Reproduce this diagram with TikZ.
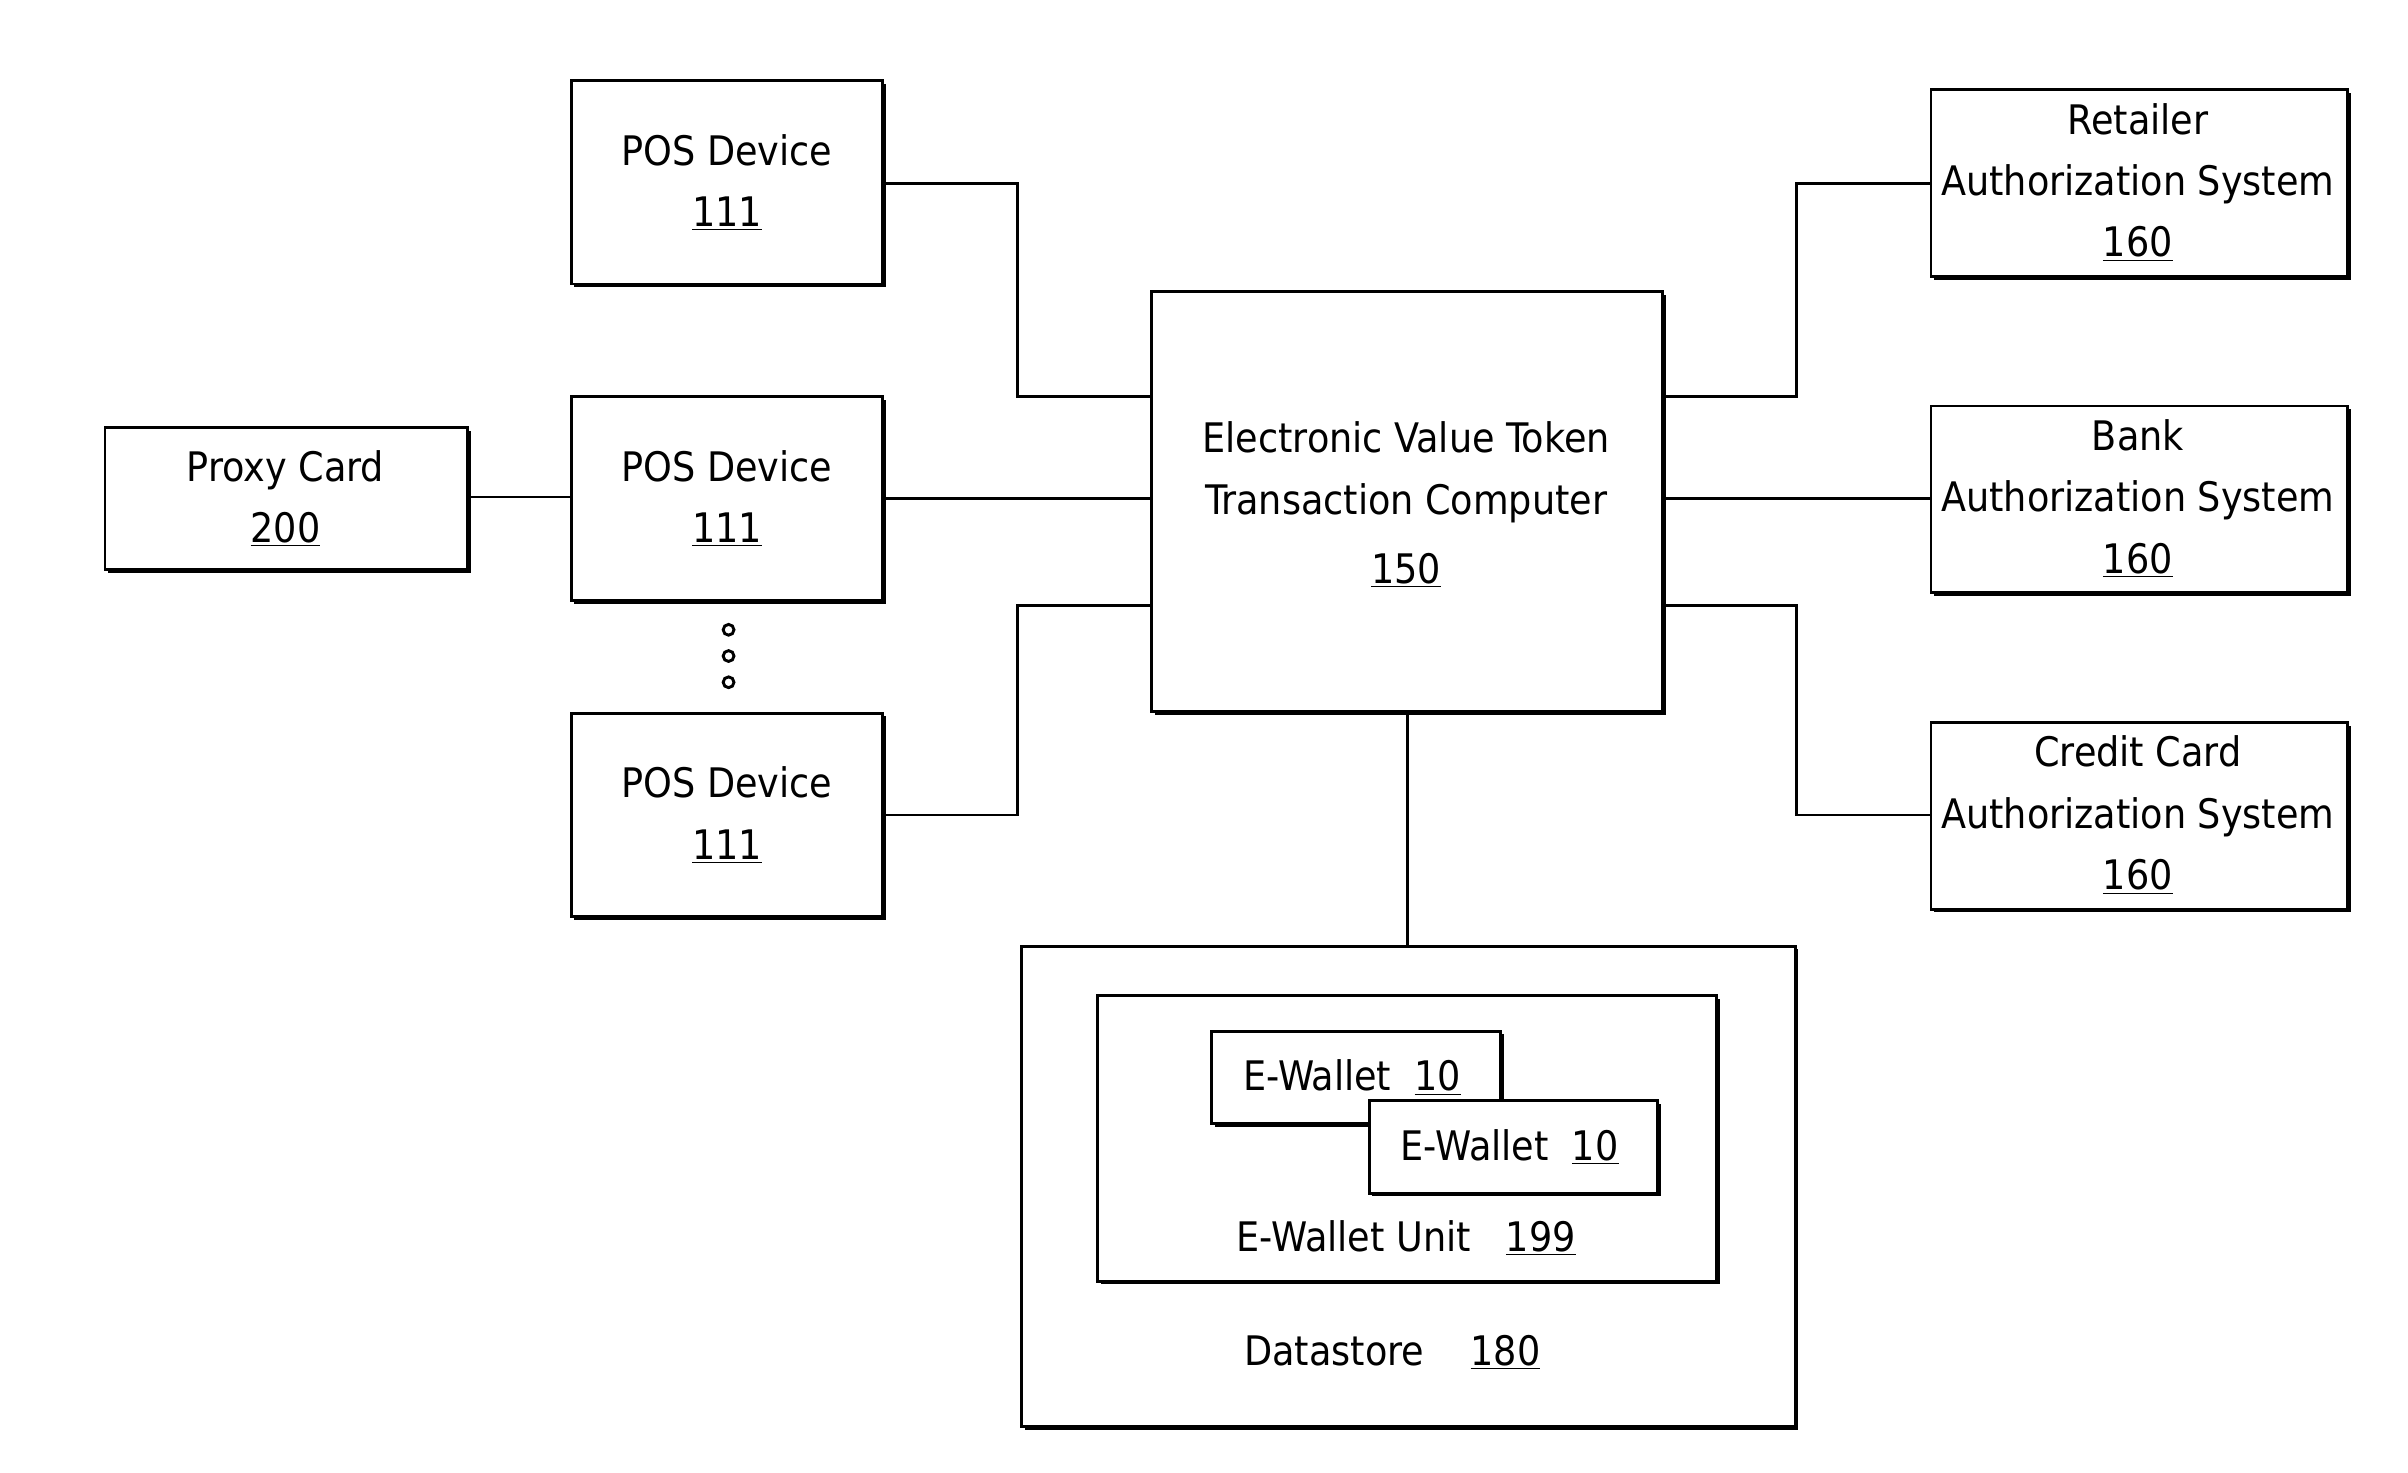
\documentclass[tikz,border=0pt]{standalone}
\usepackage{fontspec}
\setmainfont{DejaVu Sans Condensed}
\usetikzlibrary{shadows}
\newcommand\mybox[5]{\node[box,minimum width={(#4-#2)*0.03cm},minimum height={(#5-#3)*0.03cm}] (#1) at ({(#2+#4)/2},{(#3+#5)/2}) {};}
\begin{document}
\begin{tikzpicture}[x=0.03cm,y=-0.03cm,
  box/.style={draw,line width=1.6pt,fill=white,inner sep=0,outer sep=0,
    drop shadow={shadow xshift=1.8pt,shadow yshift=-1.8pt,fill=black,opacity=1}},
  lbl/.style={align=center,font=\fontsize{22.5}{34}\selectfont,inner sep=0},
  ln/.style={line width=1.6pt}]
\useasboundingbox (0,0) rectangle (1560,954);
\mybox{pos1}{370}{52}{572}{184}
\mybox{pos2}{370}{257}{572}{389}
\mybox{pos3}{370}{462}{572}{594}
\mybox{proxy}{68}{277}{303}{369}
\mybox{etc}{746}{189}{1077}{461}
\mybox{ret}{1251}{58}{1521}{179}
\mybox{bank}{1251}{263}{1521}{384}
\mybox{cc}{1251}{468}{1521}{589}
\mybox{ds}{662}{613}{1163}{924}
\mybox{unit}{711}{645}{1112}{830}
\mybox{w1}{785}{668}{972}{728}
\mybox{w2}{887}{713}{1074}{773}
\foreach \n/\y in {pos1/52,pos2/257,pos3/462}{
  \node[lbl] (\n t) at (471,\y+66) {POS Device\\\underline{111}};}
\node[lbl] (proxyt) at (185,323) {Proxy Card\\\underline{200}};
\node[lbl] (etct) at (911,327) {Electronic Value Token\\Transaction Computer\\[0.2em]\underline{150}};
\node[lbl] (rett) at (1385,118) {Retailer\\Authorization System\\\underline{160}};
\node[lbl] (bankt) at (1385,323) {Bank\\Authorization System\\\underline{160}};
\node[lbl] (cct) at (1385,528) {Credit Card\\Authorization System\\\underline{160}};
\node[lbl] (w1t) at (876,698) {E-Wallet\ \ \underline{10}};
\node[lbl] (w2t) at (978,743) {E-Wallet\ \ \underline{10}};
\node[lbl] (unitt) at (911,802) {E-Wallet Unit\ \ \ \underline{199}};
\node[lbl] (dst) at (902,876) {Datastore\ \ \ \ \underline{180}};
\foreach \y in {408,425,442} \draw[line width=1.6pt] (472,\y) circle (3.5);
\draw[ln] (pos1.east |- 0,119) -- (659,119) -- (659,257) -- (etc.west |- 0,257);
\draw[ln] (pos2.east |- 0,323) -- (etc.west |- 0,323);
\draw[ln] (pos3.east |- 0,528) -- (659,528) -- (659,392) -- (etc.west |- 0,392);
\draw[ln] (proxy.east |- 0,322) -- (pos2.west |- 0,322);
\draw[ln] (etc.east |- 0,257) -- (1164,257) -- (1164,119) -- (ret.west |- 0,119);
\draw[ln] (etc.east |- 0,323) -- (bank.west |- 0,323);
\draw[ln] (etc.east |- 0,392) -- (1164,392) -- (1164,528) -- (cc.west |- 0,528);
\draw[ln] (etc.south -| 912,0) -- (ds.north -| 912,0);
\end{tikzpicture}
\end{document}
